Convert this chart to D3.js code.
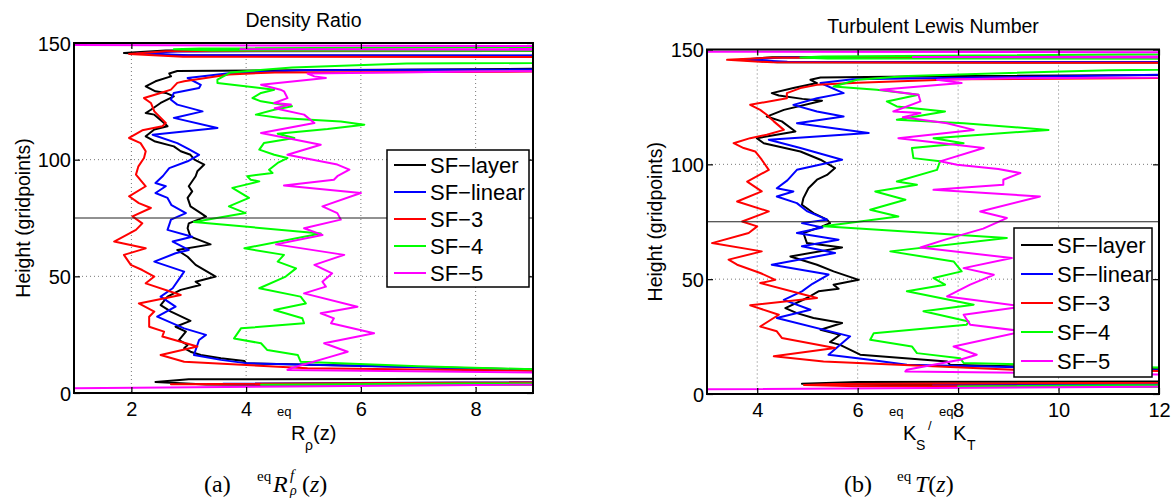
<!DOCTYPE html>
<html>
<head>
<meta charset="utf-8">
<script src="https://cdn.jsdelivr.net/npm/d3@7/dist/d3.min.js"></script>
<style>
html,body{margin:0;padding:0;background:#fff;}
svg{display:block;}
</style>
</head>
<body>
<svg id="chart" width="1174" height="499"></svg>
<script>
// ---------------- DATA ----------------
const legendLabels = ["SF\u2212layer", "SF\u2212linear", "SF\u22123", "SF\u22124", "SF\u22125"];
const heightTicks = [0, 50, 100, 150];
const densityTicksX = [2, 4, 6, 8];
const lewisTicksX = [4, 6, 8, 10, 12];
const referenceHeight = 75;

// each point: [height (gridpoints), value]
const densityLayer = [[147.4,25],[146.8,2.6],[145.7,1.87],[144.7,2.8],[144.2,25],[140,25],[139,9.5],[138,2.8],[136.9,2.66],[135.7,2.69],[133.6,2.42],[131.4,2.25],[129.3,2.42],[128.6,2.6],[127.1,2.74],[124.3,2.51],[121.4,2.34],[120,2.25],[119.3,2.4],[115.7,2.57],[114.3,2.63],[112.9,2.4],[110,2.25],[107.9,2.4],[105.7,2.74],[103.6,2.86],[102.1,3.03],[100,3.1],[97.9,3.27],[95,3.15],[92.9,3.12],[88.6,3.0],[86.4,3.06],[83.6,2.98],[80,3.03],[77.1,3.21],[75.6,3.3],[72.7,3.0],[70.6,2.98],[67,3.03],[63.7,3.38],[61.3,2.8],[58.4,2.98],[54.9,3.12],[49.9,3.47],[47.7,3.12],[46.3,3.2],[44.2,2.86],[41.3,2.63],[37.7,2.51],[34.9,2.69],[30.9,3.03],[28.4,2.77],[26.3,2.95],[22.7,2.83],[20.6,2.98],[19.2,2.92],[17.7,3.03],[16.3,3.21],[14.9,3.56],[13.7,3.97],[12.7,4.0],[11.3,6.8],[9.5,10],[6.6,25],[5.9,3.0],[4.7,2.42],[3.6,3.3],[3.1,25],[1,25]];
const densityLinear = [[147,25],[146.4,2.8],[145.6,2.1],[144.8,3.0],[144.2,25],[140,25],[138.3,5],[137,3.7],[135,2.98],[132.1,3.21],[130.7,3.18],[128.6,2.74],[125.7,2.69],[123.6,2.8],[120.7,3.24],[117.9,2.74],[113.6,3.5],[110.7,2.37],[107.1,2.8],[104.5,3.0],[102.1,3.18],[99.3,2.98],[96.4,2.66],[93,2.55],[90,2.42],[88.6,2.6],[85.7,2.42],[83.6,2.63],[80.5,2.7],[77.1,2.95],[74.3,2.69],[69.9,2.63],[67,3.06],[64.9,2.72],[61.3,3.0],[59.9,2.77],[56.3,2.4],[52,2.92],[49.9,2.86],[44.9,2.72],[41.3,2.51],[37,2.77],[32.7,2.45],[27.7,2.92],[24.9,3.3],[22.7,3.18],[16.3,3.09],[14.2,3.56],[12.7,4.02],[11,7],[9,10],[6.5,25],[4,3.6],[3.3,25],[1,25]];
const density3 = [[147.1,25],[146.5,2.6],[145.3,1.96],[144.1,2.9],[143.6,25],[140,25],[138,12],[137.4,4.5],[136.5,3.7],[133.6,2.92],[132.9,2.8],[130,2.69],[128.6,2.51],[126.4,2.22],[124.3,2.34],[120.7,2.4],[115.7,2.6],[114.3,2.54],[112.6,2.19],[109.3,1.96],[107.1,2.16],[103.6,2.25],[100.7,2.22],[97,2.12],[93.6,2.08],[88.6,2.25],[84.3,1.96],[81.4,2.13],[79.3,2.34],[75.7,2.02],[72.7,2.19],[69.9,2.08],[64.9,1.7],[62,2.25],[59.2,1.87],[54.9,1.99],[52.7,2.19],[49.9,2.4],[47,2.25],[42,2.86],[38.4,2.13],[34.9,2.4],[32.7,2.31],[28.4,2.31],[26.3,2.57],[24.2,2.54],[19.9,3.15],[16.3,2.51],[13.4,2.92],[10.6,5.07],[9.3,10],[6.5,25],[3.8,2.69],[3,25],[1,25]];
const density4 = [[150,25],[147.6,3.2],[147.3,2.74],[146.8,3.4],[146.4,25],[143,25],[141.2,6.8],[139.5,4.8],[137.4,3.73],[134.3,3.5],[132.9,3.5],[130,4.49],[128.6,4.26],[126.4,4.11],[125,4.26],[123.6,4.6],[122.9,4.8],[121.4,4.49],[119.3,4.17],[117.9,4.6],[116.4,5.65],[115,6.06],[113.1,5.42],[111.1,4.55],[109.3,4.84],[107.1,4.31],[104.3,4.23],[102.1,4.49],[100.7,4.72],[98.6,4.55],[95.7,4.4],[94.3,4.46],[92.9,4.02],[91.4,4.08],[90.7,4.23],[87.9,3.76],[83.6,4.05],[80,3.7],[77.1,3.99],[73.3,3.09],[68.4,5.3],[62,3.97],[59.2,4.66],[56.3,4.55],[53.4,4.87],[49.9,4.69],[44.9,4.23],[41.3,4.95],[38.4,5.04],[35.6,4.49],[32,4.98],[29.9,5.01],[27.7,3.91],[23.4,3.79],[21.3,4.26],[18.4,4.37],[16.3,4.9],[13.4,4.95],[11.5,7],[9.5,10],[6.5,25],[3.5,4.26],[3,25],[1,25]];
const density5 = [[149.3,-2],[147.8,25],[147.3,3.9],[146.6,25],[139,25],[137.8,8],[136.9,5.07],[135.7,5.19],[135,5.39],[132.1,4.26],[130,4.6],[129.3,4.66],[126.4,4.72],[124.3,4.49],[123.6,4.78],[122,4.5],[119.3,5.01],[115.7,5.19],[111.4,4.26],[108.6,4.84],[106.4,5.3],[102.1,4.72],[100.5,5.05],[97.9,5.59],[95.7,5.8],[92.9,5.59],[91.4,5.53],[88.9,4.66],[85.7,6.0],[80,5.33],[77.1,5.59],[74.3,5.65],[70.6,5.01],[67.7,5.33],[63.7,4.52],[59.2,5.71],[54.9,5.19],[51.3,5.5],[47.7,5.33],[45.6,5.39],[42.7,5.01],[37,5.94],[34.2,5.3],[32,5.53],[29.9,5.48],[25.6,6.23],[21.3,5.36],[17.7,5.77],[15.6,5.48],[10.6,4.78],[9.9,4.72],[8.5,10],[6.5,25],[3,5.8],[1.2,-3]];

const lewisLayer = [[147.3,25],[146.6,4.3],[145.5,3.66],[144.5,4.4],[144,25],[140,25],[138.5,8],[137.8,5.26],[136.8,5.06],[135.4,5.19],[133.2,4.72],[131,4.29],[130,4.43],[128.5,4.9],[127.7,5.29],[123.7,4.53],[120.8,4.19],[118.7,4.49],[114.3,4.76],[111.4,3.99],[109.2,4.13],[105.6,4.86],[102,5.26],[98.4,5.55],[95.4,5.39],[93.3,5.19],[89.6,5.02],[85.3,4.92],[82.4,4.89],[78.8,5.12],[75.9,5.39],[74.4,5.45],[73,5.29],[70.1,4.92],[65.7,4.99],[63.8,5.69],[59.9,4.66],[56.3,5.19],[53.4,5.52],[49.7,6.02],[47.6,5.52],[45.8,5.62],[44.7,5.22],[41.8,4.99],[37.4,4.56],[35.2,4.79],[33.1,5.12],[30.9,5.69],[28,5.26],[25.8,5.65],[22.6,5.45],[21.4,5.65],[17.1,6.05],[14.2,7.78],[12.7,7.84],[11.3,10.5],[10,14],[6,25],[5.2,6],[4.5,4.89],[3.9,6.5],[3.5,25],[1,25]];
const lewisLinear = [[147.2,25],[146.5,4.5],[145.6,3.75],[144.7,4.6],[144.2,25],[140,25],[139,12],[137,5.9],[135.4,5.26],[131,5.72],[128.8,5.19],[125.9,4.72],[123,5.19],[120.8,5.72],[117.9,4.79],[113.6,6.22],[110.7,4.23],[107.1,4.86],[102,5.69],[97.6,4.79],[93,4.6],[89.6,4.39],[88.2,4.72],[86,4.39],[83.1,4.79],[79.5,5.0],[75.9,5.39],[74.4,4.89],[72.5,5.3],[70.1,4.79],[67.2,5.62],[64.3,4.89],[61.4,5.55],[56.3,4.29],[52,5.42],[48,5.1],[44.7,4.89],[41,4.53],[36.7,5.06],[33.1,4.39],[25.1,5.85],[17.1,5.42],[15,6.2],[12.7,6.98],[11,10.5],[9,15],[6,25],[3.8,7.5],[3.2,25],[1,25]];
const lewis3 = [[147.1,25],[146.4,4.2],[145.5,3.4],[144.4,4.3],[143.8,25],[140,25],[138,15],[137,8],[135.5,6],[134.6,5.19],[133.2,4.86],[131,4.59],[128.8,4.59],[125.9,3.86],[123.7,4.06],[121.6,4.19],[118.7,4.33],[115,4.53],[112.9,4.19],[111.4,3.86],[109.2,3.53],[107.1,3.73],[105.6,3.96],[102,4.09],[97.6,4.23],[92.5,3.8],[88.2,4.09],[83.8,3.6],[79.5,4.23],[75.1,3.7],[73,4.0],[70.1,3.83],[65.7,3.1],[62.1,4.09],[58.5,3.43],[56.3,3.6],[52.7,4.06],[49.7,4.36],[48.3,4.06],[41.8,5.19],[38.6,3.86],[34.5,4.43],[29.4,4.06],[27.3,4.39],[24.4,4.49],[20,5.55],[16.4,4.33],[14.2,5.32],[10.6,9.1],[9.5,15],[6,25],[4.4,5.5],[3.9,4.93],[3.4,6],[3.0,25],[1,25]];
const lewis4 = [[150,25],[146.9,5.3],[146.5,4.86],[146.1,5.4],[145.8,25],[143,25],[141,11],[138.5,7],[136.8,5.99],[133.9,5.52],[132.5,6.38],[130.3,7.21],[127.4,6.58],[125.2,6.78],[123,7.74],[119.4,6.78],[117.9,8.11],[115,9.8],[111.4,7.51],[109.2,8.11],[107.1,7.08],[102.7,7.11],[101.3,7.64],[97.6,7.58],[92.5,6.78],[91.1,7.18],[88.2,6.35],[84.6,6.95],[80.2,6.25],[77.3,6.81],[73,5.32],[67.9,8.97],[62.1,6.65],[57.7,7.91],[53.4,8.07],[50.5,7.51],[47.6,7.74],[44.7,6.98],[38.9,8.31],[36,7.31],[31.6,8.21],[30.2,8.17],[26.5,6.32],[23.6,6.25],[20.7,7.08],[17.8,7.18],[15.6,8.04],[13.5,8.11],[12,11],[10,15],[6,25],[3.3,8],[2.8,25],[1,25]];
const lewis5 = [[149.2,-2],[148.5,25],[147.2,25],[146.7,7.1],[146.2,25],[139,25],[137.5,9],[136.8,7.58],[135.4,8.07],[132.5,6.45],[130.3,7.21],[127.4,7.25],[123,6.71],[122.3,7.25],[120.5,6.9],[117.9,7.78],[115,8.31],[111.4,6.81],[107.1,8.51],[101.3,7.64],[99.8,7.98],[98,8.8],[96.2,9.24],[93.3,8.9],[91.1,8.9],[88.9,7.51],[86,9.63],[79.5,8.44],[76.6,8.97],[72,8.5],[67.2,7.74],[63.8,7.25],[59.2,9.07],[54.8,8.11],[51.9,8.71],[47.6,8.24],[42.5,7.78],[38.1,9.3],[34.5,8.11],[30.2,8.24],[27.3,9.3],[20.7,7.91],[17.1,8.37],[14.9,8.04],[10.6,6.98],[9.8,6.95],[8.5,12],[6,25],[3.2,11.85],[1.0,-5]];

// ---------------- DRAWING ----------------
const seriesColors = ["#000000", "#0000ff", "#ff0000", "#00ff00", "#ff00ff"];
const svg = d3.select("#chart");
svg.append("rect").attr("width", 1174).attr("height", 499).attr("fill", "#fff");
const SANS = "'Liberation Sans', Arial, Helvetica, sans-serif";
const SERIF = "'Liberation Serif', 'Times New Roman', serif";

function drawPanel(cfg) {
  const {id, left, right, top, bottom, xDomain, xTicks, series, title, titleY, legend} = cfg;
  const x = d3.scaleLinear().domain(xDomain).range([left, right]);
  const y = d3.scaleLinear().domain([0, 150]).range([bottom, top]);
  const g = svg.append("g");

  // grid
  const gridX = xTicks.filter(t => t > xDomain[0] && t < xDomain[1]);
  const gridY = heightTicks.filter(t => t > 0 && t < 150);
  g.selectAll(".gx").data(gridX).join("line")
    .attr("x1", d => x(d)).attr("x2", d => x(d)).attr("y1", top).attr("y2", bottom)
    .attr("stroke", "#777").attr("stroke-width", 1).attr("stroke-dasharray", "1,3");
  g.selectAll(".gy").data(gridY).join("line")
    .attr("y1", d => y(d)).attr("y2", d => y(d)).attr("x1", left).attr("x2", right)
    .attr("stroke", "#777").attr("stroke-width", 1).attr("stroke-dasharray", "1,3");

  // clip
  svg.append("clipPath").attr("id", "clip" + id).append("rect")
    .attr("x", left).attr("y", top).attr("width", right - left).attr("height", bottom - top);
  const plot = g.append("g").attr("clip-path", `url(#clip${id})`);

  const line = d3.line().x(d => x(d[1])).y(d => y(d[0]));
  series.forEach((s, i) => {
    plot.append("path").datum(s).attr("d", line)
      .attr("fill", "none").attr("stroke", seriesColors[i])
      .attr("stroke-width", 2).attr("stroke-linejoin", "round");
  });
  // reference height line
  plot.append("line").attr("x1", left).attr("x2", right)
    .attr("y1", y(referenceHeight)).attr("y2", y(referenceHeight))
    .attr("stroke", "#222").attr("stroke-width", 1);

  // axes using d3 axis (inward ticks)
  const axB = d3.axisBottom(x).tickValues(xTicks).tickSize(-6).tickPadding(10).tickFormat(d3.format("d"));
  const axT = d3.axisTop(x).tickValues(xTicks).tickSize(-6).tickFormat("");
  const axL = d3.axisLeft(y).tickValues(heightTicks).tickSize(-6).tickPadding(5).tickFormat(d3.format("d"));
  const axR = d3.axisRight(y).tickValues(heightTicks).tickSize(-6).tickFormat("");
  const gb = g.append("g").attr("transform", `translate(0,${bottom})`).call(axB);
  const gt = g.append("g").attr("transform", `translate(0,${top})`).call(axT);
  const gl = g.append("g").attr("transform", `translate(${left},0)`).call(axL);
  const gr = g.append("g").attr("transform", `translate(${right},0)`).call(axR);
  [gb, gt, gl, gr].forEach(a => {
    a.select(".domain").remove();
    a.selectAll(".tick line").attr("stroke", "#000").attr("stroke-width", 1.2);
    a.selectAll("text").attr("font-family", SANS).attr("font-size", 20).attr("fill", "#000");
  });
  gb.selectAll("text").attr("dy", "0.71em").attr("y", 9);
  gl.selectAll("text").attr("dy", "0.35em").attr("x", -3);

  // frame
  g.append("rect").attr("x", left).attr("y", top).attr("width", right - left).attr("height", bottom - top)
    .attr("fill", "none").attr("stroke", "#000").attr("stroke-width", 2);

  // title
  g.append("text").attr("x", (left + right) / 2).attr("y", titleY).attr("text-anchor", "middle")
    .attr("font-family", SANS).attr("font-size", 19.5).text(title);

  // y label
  g.append("text").attr("transform", `translate(${cfg.yLabelX},${(top + bottom) / 2}) rotate(-90)`)
    .attr("text-anchor", "middle").attr("font-family", SANS).attr("font-size", 19.5)
    .text("Height (gridpoints)");

  // legend
  const lg = g.append("g");
  lg.append("rect").attr("x", legend.x).attr("y", legend.y).attr("width", legend.w).attr("height", legend.h)
    .attr("fill", "#fff").attr("stroke", "#000").attr("stroke-width", 1.5);
  legendLabels.forEach((lab, i) => {
    const ry = legend.firstRow + i * legend.step;
    lg.append("line").attr("x1", legend.x + 7).attr("x2", legend.x + 39).attr("y1", ry).attr("y2", ry)
      .attr("stroke", seriesColors[i]).attr("stroke-width", 2);
    lg.append("text").attr("x", legend.x + 43).attr("y", ry).attr("dy", "0.36em")
      .attr("font-family", SANS).attr("font-size", 22).text(lab);
  });
  return {x, y};
}

drawPanel({
  id: "A", left: 74, right: 533, top: 43, bottom: 393, xDomain: [1, 9], xTicks: densityTicksX,
  series: [densityLayer, densityLinear, density3, density4, density5],
  title: "Density Ratio", titleY: 27, yLabelX: 30,
  legend: {x: 387, y: 150, w: 142, h: 137, firstRow: 165, step: 27}
});
drawPanel({
  id: "B", left: 707, right: 1159, top: 49.5, bottom: 394, xDomain: [3, 12], xTicks: lewisTicksX,
  series: [lewisLayer, lewisLinear, lewis3, lewis4, lewis5],
  title: "Turbulent Lewis Number", titleY: 33, yLabelX: 662,
  legend: {x: 1014, y: 228, w: 138, h: 149, firstRow: 245, step: 29}
});

// x-axis labels (TeX-like)
function t(xp, yp, txt, size, family, style) {
  return svg.append("text").attr("x", xp).attr("y", yp).attr("font-family", family || SANS)
    .attr("font-size", size).attr("font-style", style || "normal").text(txt);
}
t(277, 416, "eq", 13);
t(291, 440, "R", 20);
t(305, 450, "\u03c1", 14);
t(313, 440, "(z)", 20);

t(889, 416, "eq", 13);
t(903, 440, "K", 20);
t(916, 450, "S", 14);
t(928, 430, "/", 13);
t(939, 416, "eq", 13);
t(953, 440, "K", 20);
t(967, 450, "T", 14);

// captions
t(204, 492, "(a)", 24, SERIF);
t(257, 481, "eq", 15, SERIF);
t(273, 492, "R", 24, SERIF, "italic");
t(290, 480, "f", 15, SERIF, "italic");
t(290, 495, "\u03c1", 14, SERIF, "italic");
const capA = t(302, 492, "", 24, SERIF);
capA.append("tspan").text("(");
capA.append("tspan").attr("font-style", "italic").text("z");
capA.append("tspan").text(")");

t(844, 492, "(b)", 24, SERIF);
t(897, 481, "eq", 15, SERIF);
const capB = t(915, 492, "", 24, SERIF);
capB.append("tspan").attr("font-style", "italic").text("T");
capB.append("tspan").text("(");
capB.append("tspan").attr("font-style", "italic").text("z");
capB.append("tspan").text(")");
</script>
</body>
</html>
